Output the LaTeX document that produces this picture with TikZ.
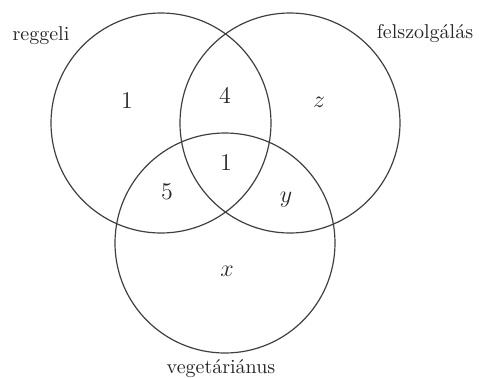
\documentclass[tikz,border=0pt]{standalone}
\usepackage{amsmath,amssymb}
\usepackage{tikz}
\usetikzlibrary{positioning}

\begin{document}
\begin{tikzpicture}[x=0.5pt, y=-0.5pt,
    set/.style={circle, draw=black!75, line width=0.6pt, inner sep=0pt, minimum size=110pt},
    setlabel/.style={font=\normalsize, text=black!85},
    count/.style={font=\large, text=black!85}]
    
    \useasboundingbox (0,0) rectangle (479,377);
    
    % halmazok
    \node[set] at (161,123) (reg) {};
    \node[set] at (290,123) (fel) {};
    \node[set] at (225,243) (veg) {};
    
    % halmazok nevei
    \node[setlabel] at (41,36) (regname) {reggeli};
    \node[setlabel] at (425,34) (felname) {felszolgálás};
    \node[setlabel] at (221,369) (vegname) {vegetáriánus};
    
    % elemszamok
    \node[count] at (127,101) (onlyreg) {1};
    \node[count] at (225,95) (regfel) {4};
    \node[count] at (319,102) (onlyfel) {$z$};
    \node[count] at (226,163) (all) {1};
    \node[count] at (167,192) (regveg) {5};
    \node[count] at (286,200) (felveg) {$y$};
    \node[count] at (227,271) (onlyveg) {$x$};
\end{tikzpicture}
\end{document}
